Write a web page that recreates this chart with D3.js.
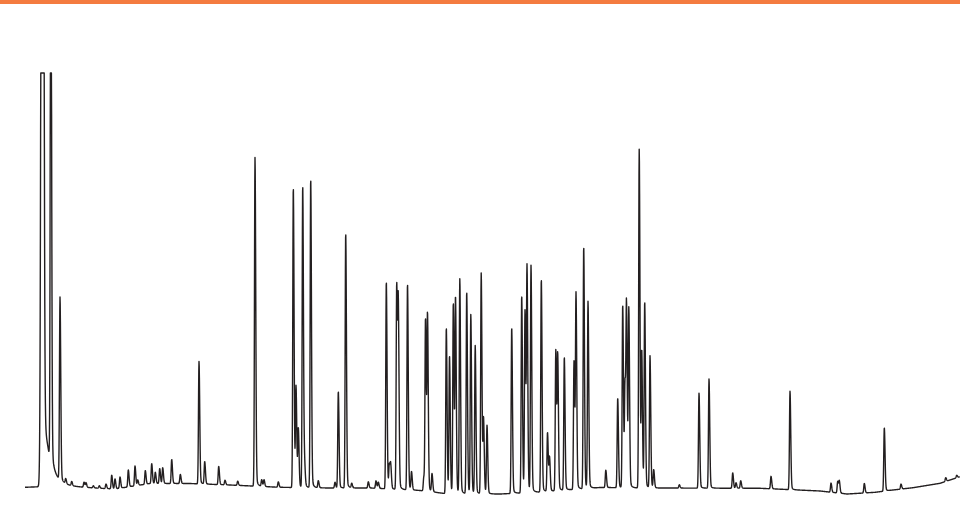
<!DOCTYPE html>
<html>
<head>
<meta charset="utf-8">
<script src="https://cdn.jsdelivr.net/npm/d3@7"></script>
<style>
  html, body { margin: 0; padding: 0; background: #fff; }
  svg { display: block; }
</style>
</head>
<body>
<div id="chart"></div>
<script>
// 色谱图 - 保留时间(min) / 响应(相对值, 100 = 记录上限)

// 溶剂峰
const solventTime = 0.925;
const solventHeight = 400;

// 各组分峰：保留时间
const peakTimes = [
  1.34, 1.80, 2.085, 2.385, 3.00, 3.10, 3.465, 3.765, 4.10, 4.385,
  4.55, 4.80, 5.215, 5.55, 5.685, 6.065, 6.385, 6.565, 6.785, 6.935,
  7.385, 7.815, 8.75, 9.035, 9.735, 10.05, 10.685, 11.55, 11.885, 12.00,
  12.715, 13.465, 13.60, 13.715, 13.935, 14.025, 14.335, 14.715, 15.55, 15.715,
  16.085, 16.385, 17.215, 17.60, 17.715, 18.115, 18.265, 18.335, 18.635, 18.715,
  19.175, 19.375, 19.99, 20.075, 20.175, 20.40, 21.115, 21.275, 21.465, 21.575,
  21.79, 22.135, 22.34, 22.56, 22.86, 22.975, 23.15, 24.385, 24.885, 25.05,
  25.15, 25.35, 25.865, 26.175, 26.275, 26.59, 26.685, 27.015, 27.50, 27.60,
  27.985, 28.20, 29.09, 29.685, 29.935, 30.05, 30.125, 30.24, 30.76, 30.885,
  31.035, 31.30, 31.485, 32.765, 33.75, 34.25, 35.435, 35.60, 35.835, 37.35,
  38.30, 40.35, 40.685, 40.765, 42.015, 43.015, 43.85, 46.085, 46.635
];

// 各组分峰：峰高
const peakHeights = [
  150, 44, 1.2, 1.0, 1.2, 1.1, 0.5, 0.6, 1.1, 3.3,
  2.4, 2.7, 4.1, 4.8, 1.3, 3.3, 4.8, 2.7, 3.6, 3.8,
  5.8, 2.2, 29.5, 5.4, 4.4, 1.1, 1.0, 79.2, 1.6, 1.6,
  1.3, 72.4, 23.9, 14, 72.8, 5, 74.5, 1.7, 1.4, 23.3,
  61.5, 1.1, 1.5, 1.8, 1.5, 50, 5.7, 5.3, 49.6, 42,
  49.7, 4.3, 3.3, 41.6, 42, 4.3, 40, 33, 45.9, 46.8,
  51.6, 48.7, 43, 35.6, 53.2, 17.8, 16.4, 40, 47.6, 43.8,
  53.5, 54.5, 51.3, 14.2, 8, 34, 32, 32.1, 31, 46.5,
  58.4, 44.9, 4.2, 21.6, 44.1, 25, 42, 42.7, 81.6, 32.5,
  44.6, 31.8, 4.3, 0.8, 22.9, 26.3, 3.7, 1.3, 1.8, 3,
  23.7, 2.2, 2.8, 2.8, 2.3, 15.3, 1.2, 0.9, 0.6
];

// 基线漂移
const driftTimes  = [0.05, 1.8, 3.8, 4.55, 6.3, 8.3, 10.3, 12.8, 15.3, 17.3, 19.8, 21.05, 23.8, 25.8, 28.8, 31.3, 36.8, 39.8, 41.15, 42.55, 43.45, 44.45, 45.8, 46.8];
const driftLevels = [0.17, 0.5, -0.07, -0.24, 1.08, 1.08, 0.72, 0.17, 0, 0, -0.6, -1.33, -1.45, -0.96, 0.12, 0, -0.07, -0.72, -1.45, -1.04, -0.48, 0.07, 1.13, 2.72];

const width = 960;
const height = 523;

const svg = d3.select('#chart')
  .append('svg')
  .attr('width', width)
  .attr('height', height);

// 顶部橙色条
svg.append('rect')
  .attr('x', 0)
  .attr('y', 0)
  .attr('width', width)
  .attr('height', 4)
  .attr('fill', '#f47b40');

const x = d3.scaleLinear().domain([0, 46.8]).range([24, 960]);
// 超出上限的峰被削平
const y = d3.scaleLinear().domain([-10, 100]).range([529.5, 73]).clamp(true);

const drift = d3.scaleLinear().domain(driftTimes).range(driftLevels);

// 峰形：不对称高斯 + 平滑拖尾（不抬高峰顶）
function peakShape(dt, h, sL, sR, k, tau) {
  const s = dt < 0 ? sL : sR;
  let v = h * Math.exp(-0.5 * (dt / s) * (dt / s));
  if (dt > 0) {
    const r = dt / sR;
    v += h * k * (1 - Math.exp(-r * r)) * Math.exp(-dt / tau);
  }
  return v;
}

function signal(t) {
  let v = drift(t);
  v += peakShape(t - solventTime, solventHeight, 0.054, 0.05, 0.055, 0.325);
  for (let i = 0; i < peakTimes.length; i++) {
    const dt = t - peakTimes[i];
    if (dt < -0.3 || dt > 0.8) continue;
    v += peakShape(dt, peakHeights[i], 0.026, 0.036, 0.05, 0.08);
  }
  return v;
}

const samples = d3.range(0.05, 46.8, 0.01).map(t => ({ t: t, v: signal(t) }));

const line = d3.line()
  .x(d => x(d.t))
  .y(d => y(d.v));

svg.append('path')
  .datum(samples)
  .attr('d', line)
  .attr('fill', 'none')
  .attr('stroke', '#231f20')
  .attr('stroke-width', 1.4)
  .attr('stroke-linejoin', 'round');
</script>
</body>
</html>
